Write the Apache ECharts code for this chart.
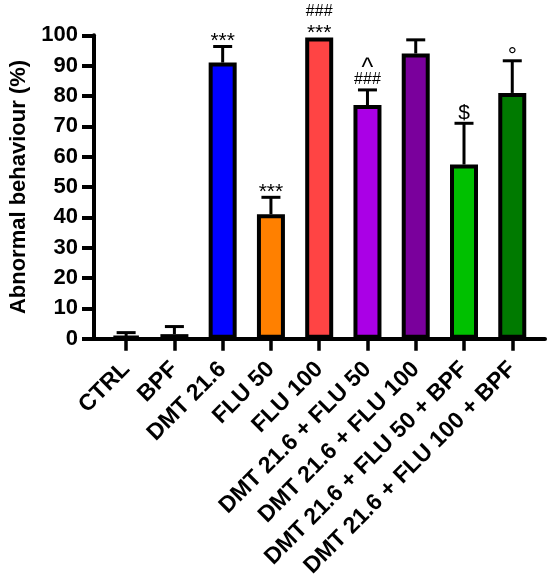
<!DOCTYPE html>
<html>
<head>
<meta charset="utf-8">
<script src="https://cdn.jsdelivr.net/npm/echarts@6/dist/echarts.min.js"></script>
<style>
html,body{margin:0;padding:0;background:#fff;}
#chart{width:550px;height:582px;}
</style>
</head>
<body>
<div id="chart"></div>
<script>
const categories = ['CTRL', 'BPF', 'DMT 21.6', 'FLU 50', 'FLU 100', 'DMT 21.6 + FLU 50', 'DMT 21.6 + FLU 100', 'DMT 21.6 + FLU 50 + BPF', 'DMT 21.6 + FLU 100 + BPF'];
const means = [0.8, 1.5, 91, 41, 99.3, 77, 94, 57.4, 81];
const sems = [1.2, 2.5, 5.3, 5.6, 0, 5, 4.5, 13.6, 10.6];
const annotations = [[], [], ['***'], ['***'], ['###', '***'], ['^', '###'], [], ['$'], ['°']];
const barColors = ['#ffffff', '#ffffff', '#0000ff', '#ff8000', '#ff4444', '#aa00e6', '#7a009c', '#00c000', '#007a00'];
const yMin = 0, yMax = 100, yInterval = 10;

const FONT = '"Liberation Sans", Arial, sans-serif';
const chart = echarts.init(document.getElementById('chart'), null, {renderer: 'canvas'});

const glyphStyle = function (line) {
  if (line.indexOf('*') >= 0) return {size: 21, corr: 0.22};
  if (line.indexOf('#') >= 0) return {size: 16, corr: 0.0};
  if (line.indexOf('^') >= 0) return {size: 25, corr: 0.22};
  if (line.indexOf('°') >= 0) return {size: 23, corr: 0.25};
  return {size: 21, corr: 0.0};
};

const option = {
  animation: false,
  backgroundColor: '#ffffff',
  grid: [
    {left: 97.2, right: 13.6, top: 35.3, bottom: 243.3},
    {left: 87.2, right: 5, top: 35.3, bottom: 243.3}
  ],
  xAxis: [
    {
      type: 'category',
      gridIndex: 0,
      data: categories,
      axisLine: {show: true, lineStyle: {color: '#000', width: 4}},
      axisTick: {show: true, alignWithLabel: true, length: 12, lineStyle: {color: '#000', width: 3.5}},
      axisLabel: {rotate: 45, margin: 27, interval: 0, color: '#000', fontFamily: FONT, fontWeight: 'bold', fontSize: 23},
      splitLine: {show: false}
    },
    {
      type: 'value',
      gridIndex: 1,
      min: 0, max: 1,
      axisLine: {show: true, lineStyle: {color: '#000', width: 4}},
      axisTick: {show: false},
      axisLabel: {show: false},
      splitLine: {show: false}
    }
  ],
  yAxis: [
    {
      type: 'value',
      gridIndex: 0,
      min: yMin, max: yMax, interval: yInterval,
      offset: 8,
      name: 'Abnormal behaviour (%)',
      nameLocation: 'middle',
      nameGap: 64,
      nameTextStyle: {color: '#000', fontFamily: FONT, fontWeight: 'bold', fontSize: 22},
      axisLine: {show: true, lineStyle: {color: '#000', width: 4}},
      axisTick: {show: true, length: 12, lineStyle: {color: '#000', width: 4}},
      axisLabel: {margin: 16, color: '#000', fontFamily: FONT, fontWeight: 'bold', fontSize: 22},
      splitLine: {show: false}
    },
    {
      type: 'value',
      gridIndex: 1,
      min: 0, max: 1,
      show: false
    }
  ],
  series: [
    {
      type: 'bar',
      xAxisIndex: 0, yAxisIndex: 0,
      barWidth: 28,
      data: means.map(function (v, i) {
        return {value: v, itemStyle: {color: barColors[i], borderColor: '#000', borderWidth: 4}};
      }),
      z: 2
    },
    {
      type: 'custom',
      xAxisIndex: 0, yAxisIndex: 0,
      z: 4,
      data: means.map(function (v, i) { return [i, v, sems[i]]; }),
      renderItem: function (params, api) {
        const i = api.value(0);
        const m = api.value(1);
        const e = api.value(2);
        const p0 = api.coord([i, m]);
        const p1 = api.coord([i, m + e]);
        const children = [];
        if (e > 0) {
          children.push({type: 'line', shape: {x1: p0[0], y1: p0[1], x2: p1[0], y2: p1[1]}, style: {stroke: '#000', lineWidth: 3}});
          children.push({type: 'line', shape: {x1: p1[0] - 9.5, y1: p1[1], x2: p1[0] + 9.5, y2: p1[1]}, style: {stroke: '#000', lineWidth: 3}});
        }
        const lines = annotations[i];
        const n = lines.length;
        for (let k = 0; k < n; k++) {
          const line = lines[n - 1 - k];
          const g = glyphStyle(line);
          const center = p1[1] - 10 - 16.5 * k - (e > 0 ? 0 : -1);
          children.push({
            type: 'text',
            x: p1[0], y: center + g.corr * g.size,
            style: {text: line, fill: '#000', fontFamily: FONT, fontSize: g.size, align: 'center', verticalAlign: 'middle'}
          });
        }
        return {type: 'group', children: children};
      }
    }
  ]
};
chart.setOption(option);
</script>
</body>
</html>
